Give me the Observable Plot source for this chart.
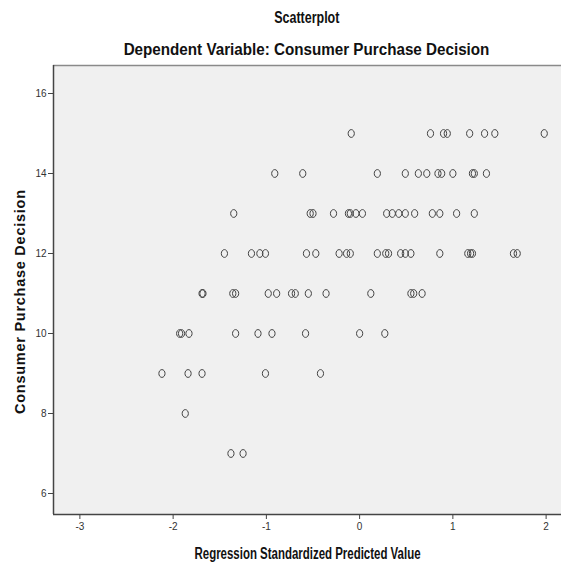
<!DOCTYPE html>
<html>
<head>
<meta charset="utf-8">
<script src="https://cdn.jsdelivr.net/npm/d3@7"></script>
<script src="https://cdn.jsdelivr.net/npm/@observablehq/plot@0.6"></script>
<style>
  body { margin: 0; background: #fff; }
  #wrap { width: 561px; height: 566px; position: relative; font-family: "Liberation Sans", Arial, sans-serif; }
  .t { position: absolute; left: 53px; width: 508px; text-align: center; font-weight: bold; color: #111; font-size: 16px; line-height: 18px; }
  .t span { display: inline-block; }
  #svgbox { position: absolute; left: 0; top: 0; }
</style>
</head>
<body>
<div id="wrap">
  <div id="svgbox"></div>
  <div class="t" style="top:9px"><span style="transform: scaleX(0.78)">Scatterplot</span></div>
  <div class="t" style="top:41px"><span style="transform: scaleX(0.95)">Dependent Variable: Consumer Purchase Decision</span></div>
</div>
<script>
// Reading values off the reference: predicted (x) per outcome level (y)
const row15 = [-0.09, 0.76, 0.90, 0.94, 1.18, 1.34, 1.45, 1.98];
const row14 = [-0.91, -0.61, 0.19, 0.49, 0.63, 0.72, 0.84, 0.88, 1.00, 1.21, 1.23, 1.36];
const row13 = [-1.35, -0.53, -0.50, -0.28, -0.12, -0.10, -0.04, 0.03, 0.29, 0.35, 0.42, 0.49, 0.59, 0.78, 0.86, 1.04, 1.23];
const row12 = [-1.45, -1.16, -1.07, -1.01, -0.57, -0.47, -0.22, -0.14, -0.10, 0.19, 0.28, 0.31, 0.44, 0.49, 0.55, 0.86, 1.16, 1.19, 1.21, 1.65, 1.69];
const row11 = [-1.69, -1.68, -1.36, -1.33, -0.98, -0.89, -0.73, -0.69, -0.55, -0.36, 0.12, 0.55, 0.58, 0.67];
const row10 = [-1.93, -1.91, -1.83, -1.33, -1.09, -0.94, -0.58, 0.00, 0.27];
const row9 = [-2.12, -1.84, -1.69, -1.01, -0.42];
const row8 = [-1.87];
const row7 = [-1.38, -1.25];

const xTicks = [-3, -2, -1, 0, 1, 2];
const yTicks = [6, 8, 10, 12, 14, 16];
const xDomain = [-3.283, 2.165];
const yDomain = [5.475, 16.7];
const xLabel = "Regression Standardized Predicted Value";
const yLabel = "Consumer Purchase Decision";

const rows = [[15, row15], [14, row14], [13, row13], [12, row12], [11, row11], [10, row10], [9, row9], [8, row8], [7, row7]];
const data = rows.flatMap(([yv, xs]) => xs.map(x => ({x, y: yv})));

const ellipse = {
  draw(ctx, size) {
    const rx = 3.1, ry = 3.9, k = 0.5523;
    ctx.moveTo(rx, 0);
    ctx.bezierCurveTo(rx, ry * k, rx * k, ry, 0, ry);
    ctx.bezierCurveTo(-rx * k, ry, -rx, ry * k, -rx, 0);
    ctx.bezierCurveTo(-rx, -ry * k, -rx * k, -ry, 0, -ry);
    ctx.bezierCurveTo(rx * k, -ry, rx, -ry * k, rx, 0);
    ctx.closePath();
  }
};

const plot = Plot.plot({
  width: 561,
  height: 566,
  marginTop: 65,
  marginBottom: 52,
  marginLeft: 53,
  marginRight: 0,
  style: { fontFamily: "'Liberation Sans', Arial, sans-serif", fontSize: "10px", color: "#333", background: "transparent" },
  x: { domain: xDomain, ticks: xTicks, tickFormat: d => String(d), label: null },
  y: { domain: yDomain, ticks: yTicks, label: null },
  marks: [
    Plot.frame({ fill: "#f0f0f0", stroke: null }),
    Plot.ruleY([yDomain[1]], { stroke: "#8a8a8a", strokeWidth: 1.5 }),
    Plot.ruleX([xDomain[0]], { stroke: "#444", strokeWidth: 1.5 }),
    Plot.ruleY([yDomain[0]], { stroke: "#444", strokeWidth: 1.5 }),
    Plot.axisX({ ticks: xTicks, tickSize: 5, tickPadding: 3, tickFormat: d => String(d), stroke: "#444", label: null }),
    Plot.axisY({ ticks: yTicks, tickSize: 5, tickPadding: 2, stroke: "#444", label: null }),
    Plot.dot(data, { x: "x", y: "y", symbol: ellipse, r: 3.5, stroke: "#444", strokeWidth: 1, fill: "none" }),
    Plot.text([xLabel], { frameAnchor: "bottom", dy: 44, text: d => d, fontWeight: "bold", fontSize: 16, fill: "#111" }),
    Plot.text([yLabel], { frameAnchor: "left", dx: -33, dy: 12, rotate: -90, textAnchor: "middle", text: d => d, fontWeight: "bold", fontSize: 14.5, fill: "#111" })
  ]
});
d3.select(plot).selectAll("text").each(function() {
  const t = this.textContent;
  if (t === xLabel) { this.setAttribute("textLength", 226); this.setAttribute("lengthAdjust", "spacingAndGlyphs"); }
  if (t === yLabel) { this.setAttribute("textLength", 224); this.setAttribute("lengthAdjust", "spacing"); }
});
document.getElementById("svgbox").appendChild(plot);
</script>
</body>
</html>
